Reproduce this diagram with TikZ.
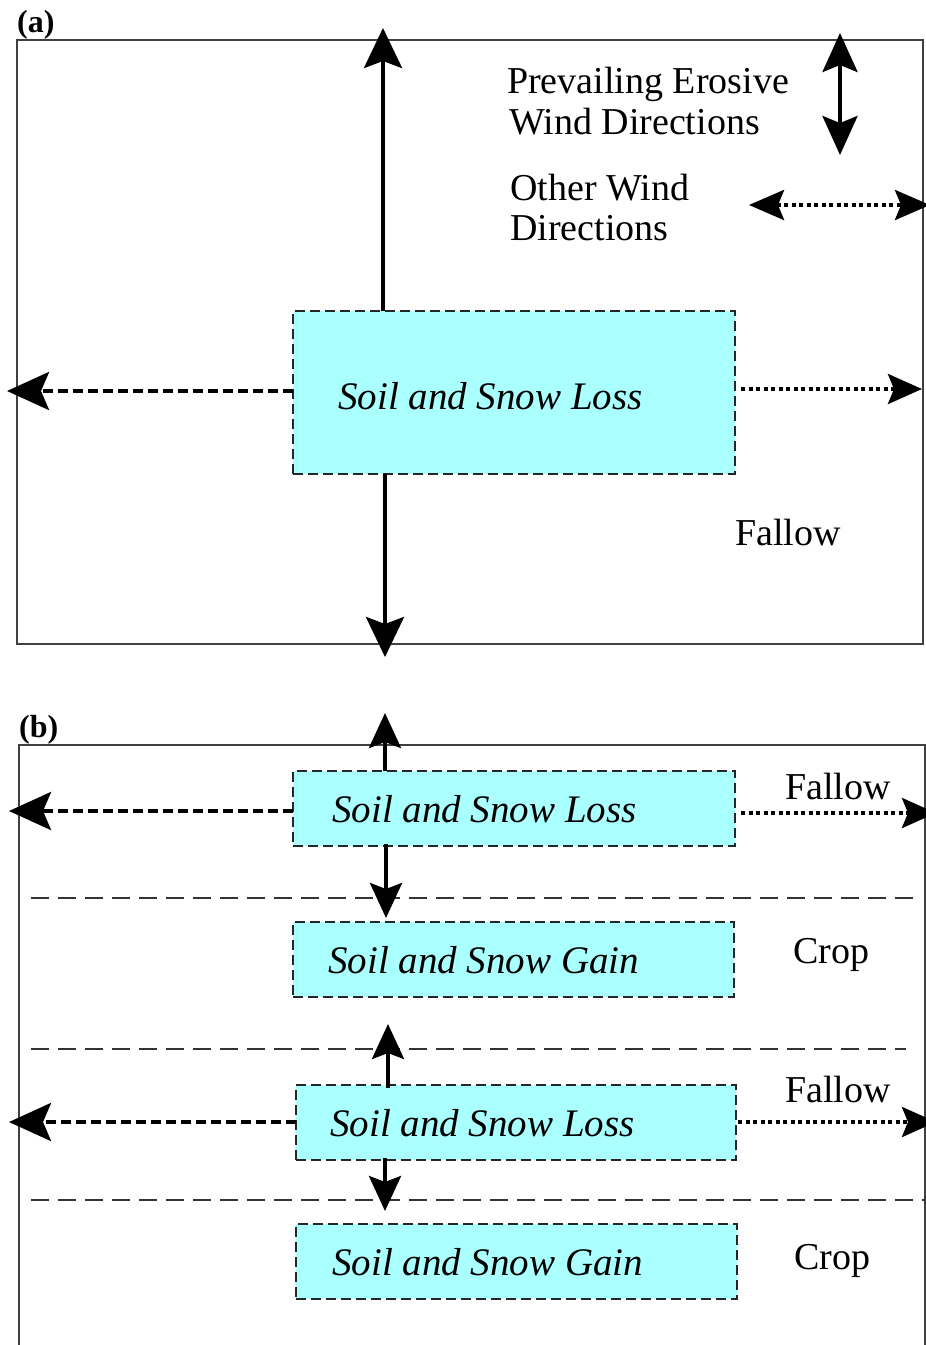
\documentclass[tikz,border=0pt]{standalone}
\usepackage{fontspec}
\setmainfont{Liberation Serif}
\usetikzlibrary{arrows.meta}
\definecolor{boxcyan}{RGB}{170,255,255}
\begin{document}
\begin{tikzpicture}[x=1pt,y=-1pt,
  frame/.style={draw=black!75, line width=1.2pt},
  fieldbox/.style={draw=black!85, fill=boxcyan, line width=1.4pt, dash pattern=on 10pt off 5pt, anchor=north west, inner sep=0pt, outer sep=0pt, minimum width=441pt},
  boxtext/.style={anchor=base west, inner sep=0pt, font=\fontsize{39}{47}\selectfont\itshape},
  plaintext/.style={anchor=base west, inner sep=0pt, font=\fontsize{38}{46}\selectfont},
  paneltag/.style={anchor=base west, inner sep=0pt, font=\fontsize{32}{38}\selectfont\bfseries},
  bigsolid/.style={line width=4pt, -{Stealth[length=40pt,width=38pt,inset=7pt]}},
  smallsolid/.style={line width=4pt, -{Stealth[length=35pt,width=32pt,inset=6pt]}},
  legendsolid/.style={line width=4pt, {Stealth[length=39pt,width=35pt,inset=7pt]}-{Stealth[length=39pt,width=35pt,inset=7pt]}},
  dasharrow/.style={line width=4pt, dash pattern=on 10pt off 5pt, -{Stealth[length=42pt,width=38pt,inset=8pt]}},
  dotarrow/.style={line width=4pt, dash pattern=on 4pt off 3.5pt, -{Stealth[length=34pt,width=30pt,inset=6pt]}},
  legenddot/.style={line width=4pt, dash pattern=on 4pt off 3.5pt, {Stealth[length=35pt,width=30pt,inset=6pt]}-{Stealth[length=35pt,width=30pt,inset=6pt]}},
  separator/.style={draw=black!80, line width=1.8pt, dash pattern=on 18pt off 9pt},
]
\useasboundingbox (0,0) rectangle (926,1345);

% ---------------- panel (a) ----------------
\draw[frame] (17,40) rectangle (923,644);
\node[paneltag] (tagA) at (17,32) {(a)};

\node[fieldbox, minimum width=442pt, minimum height=163pt] (A) at (293,311) {};
\node[boxtext] (tA) at (338,409) {Soil and Snow Loss};

\coordinate (aUp) at (383,28);
\coordinate (aDown) at (385,657);
\coordinate (aLeft) at (7,391);
\coordinate (aRight) at (922,389);
\draw[bigsolid] (aUp |- A.north) -- (aUp);
\draw[bigsolid] (aDown |- A.south) -- (aDown);
\draw[dasharrow] (aLeft -| A.west) -- (aLeft);
\draw[dotarrow] ([xshift=6pt]aRight -| A.east) -- (aRight);

\node[plaintext] (fallowA) at (735,545) {Fallow};

% legend
\node[plaintext] (lg1) at (507,93) {Prevailing Erosive};
\node[plaintext] (lg2) at (509,134) {Wind Directions};
\node[plaintext] (lg3) at (510,200) {Other Wind};
\node[plaintext] (lg4) at (510,240) {Directions};
\coordinate (lvTop) at (840,33);
\coordinate (lvBot) at (840,155);
\draw[legendsolid] (lvTop) -- (lvBot);
\coordinate (lhL) at (749,205);
\coordinate (lhR) at (930,205);
\draw[legenddot] (lhL) -- (lhR);

% ---------------- panel (b) ----------------
\draw[frame] (19,1350) -- (19,745) -- (925,745) -- (925,1350);
\node[paneltag] (tagB) at (19,737) {(b)};

\draw[separator] (31,898) -- (916,898);
\draw[separator] (31,1049) -- (906,1049);
\draw[separator] (31,1200) -- (926,1200);

\node[fieldbox, minimum width=442pt, minimum height=75pt] (B1) at (293,771) {};
\node[boxtext] (tB1) at (332,822) {Soil and Snow Loss};
\node[fieldbox, minimum width=441pt, minimum height=75pt] (B2) at (293,922) {};
\node[boxtext] (tB2) at (328,973) {Soil and Snow Gain};
\node[fieldbox, minimum width=440pt, minimum height=75pt] (B3) at (296,1085) {};
\node[boxtext] (tB3) at (330,1136) {Soil and Snow Loss};
\node[fieldbox, minimum width=441pt, minimum height=75pt] (B4) at (296,1224) {};
\node[boxtext] (tB4) at (332,1275) {Soil and Snow Gain};

\node[plaintext] (fB1) at (785,799) {Fallow};
\node[plaintext] (cB2) at (793,963) {Crop};
\node[plaintext] (fB3) at (785,1102) {Fallow};
\node[plaintext] (cB4) at (794,1269) {Crop};

\coordinate (b1Up) at (385,713);
\coordinate (b1Down) at (386,918);
\coordinate (b1Left) at (9,811);
\coordinate (b1Right) at (936,813);
\draw[smallsolid] (b1Up |- B1.north) -- (b1Up);
\draw[smallsolid] ([yshift=2pt]b1Down |- B1.south) -- (b1Down);
\draw[dasharrow] (b1Left -| B1.west) -- (b1Left);
\draw[dotarrow] ([xshift=6pt]b1Right -| B1.east) -- (b1Right);

\coordinate (b3Up) at (388,1024);
\coordinate (b3Down) at (385,1211);
\coordinate (b3Left) at (9,1122);
\coordinate (b3Right) at (936,1122);
\draw[smallsolid] ([yshift=-3pt]b3Up |- B3.north) -- (b3Up);
\draw[smallsolid] ([yshift=2pt]b3Down |- B3.south) -- (b3Down);
\draw[dasharrow] (b3Left -| B3.west) -- (b3Left);
\draw[dotarrow] ([xshift=2pt]b3Right -| B3.east) -- (b3Right);
\end{tikzpicture}
\end{document}
